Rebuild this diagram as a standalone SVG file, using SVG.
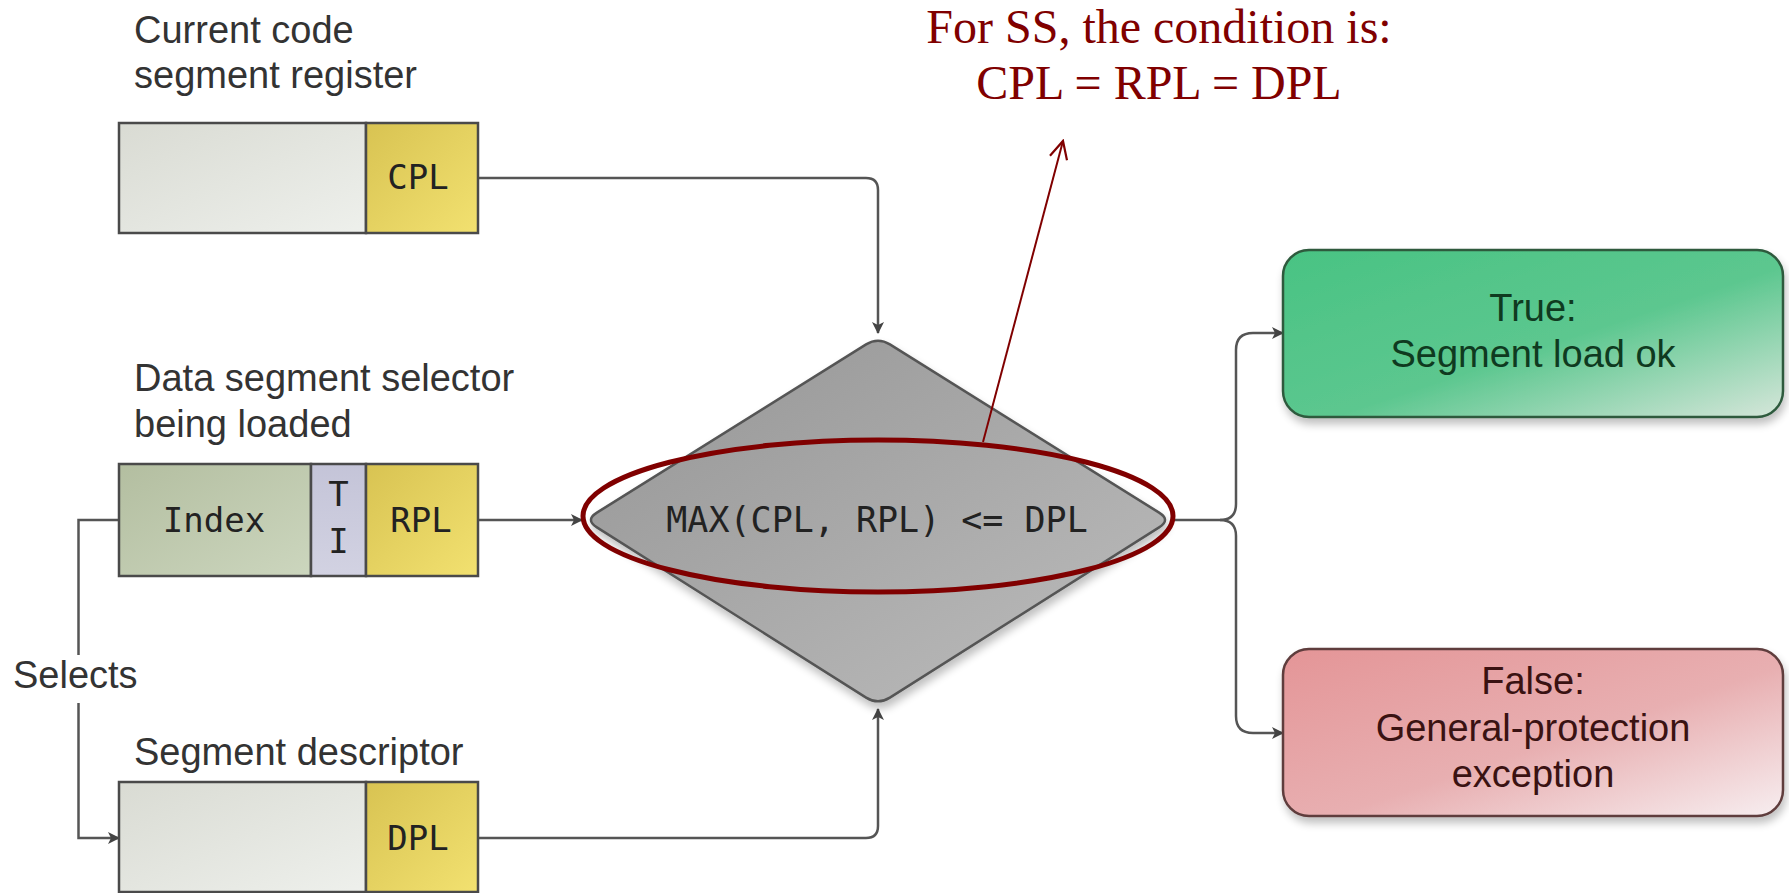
<svg xmlns="http://www.w3.org/2000/svg" width="1789" height="893" viewBox="0 0 1789 893">
<defs>
<style>
.lbl{font-family:"Liberation Sans",Arial,sans-serif;font-size:38px;fill:#333}
.mono{font-family:"DejaVu Sans Mono","Liberation Mono",monospace;font-size:34px;fill:#222}
.red{font-family:"Liberation Serif","Times New Roman",serif;font-size:48px;fill:#800000}
.box{stroke:#4a4a4a;stroke-width:2.5}
.conn{fill:none;stroke:#555;stroke-width:2.5}
.res{font-family:"Liberation Sans",Arial,sans-serif;font-size:38px;text-anchor:middle}
</style>
<linearGradient id="gGray" x1="0" y1="0" x2="1" y2="1"><stop offset="0" stop-color="#d9dbd3"/><stop offset="1" stop-color="#eef0ec"/></linearGradient>
<linearGradient id="gYel" x1="0" y1="0" x2="1" y2="1"><stop offset="0" stop-color="#d8c352"/><stop offset="1" stop-color="#f2e170"/></linearGradient>
<linearGradient id="gIdx" x1="0" y1="0" x2="1" y2="1"><stop offset="0" stop-color="#b3bea0"/><stop offset="1" stop-color="#ccd6be"/></linearGradient>
<linearGradient id="gTI" x1="0" y1="0" x2="0" y2="1"><stop offset="0" stop-color="#c4c4d8"/><stop offset="1" stop-color="#d2d2e2"/></linearGradient>
<linearGradient id="gDia" x1="0" y1="0" x2="1" y2="1"><stop offset="0" stop-color="#959595"/><stop offset="1" stop-color="#bdbdbd"/></linearGradient>
<linearGradient id="gTrue" x1="0" y1="0" x2="1" y2="1"><stop offset="0" stop-color="#49c383"/><stop offset="0.55" stop-color="#5cc78f"/><stop offset="1" stop-color="#d6e6da"/></linearGradient>
<linearGradient id="gFalse" x1="0" y1="0" x2="1" y2="1"><stop offset="0" stop-color="#e49597"/><stop offset="0.55" stop-color="#e8afb1"/><stop offset="1" stop-color="#f7eef0"/></linearGradient>
<filter id="sh" x="-5%" y="-5%" width="115%" height="125%"><feGaussianBlur in="SourceAlpha" stdDeviation="4"/><feOffset dx="2" dy="6"/><feComponentTransfer><feFuncA type="linear" slope="0.25"/></feComponentTransfer><feMerge><feMergeNode/><feMergeNode in="SourceGraphic"/></feMerge></filter>
<marker id="arr" viewBox="0 0 12 12" refX="11" refY="6" markerWidth="12" markerHeight="12" markerUnits="userSpaceOnUse" orient="auto"><path d="M0,0 L12,6 L0,12 L3,6 Z" fill="#444"/></marker>
<marker id="redarr" viewBox="0 0 20 20" refX="18" refY="10" markerWidth="22" markerHeight="22" markerUnits="userSpaceOnUse" orient="auto"><path d="M2,2 L18,10 L2,18" fill="none" stroke="#800000" stroke-width="2"/></marker>
</defs>
<rect width="1789" height="893" fill="#ffffff"/>

<g id="connectors">
<path class="conn" d="M478,178 H866 Q878,178 878,190 V333" marker-end="url(#arr)"/>
<path class="conn" d="M478,838 H866 Q878,838 878,826 V709" marker-end="url(#arr)"/>
<path class="conn" d="M478,520 H582" marker-end="url(#arr)"/>
<path class="conn" d="M119,520 H78.5 V655 M78.5,703 V838 H119" marker-end="url(#arr)"/>
<path class="conn" d="M1173,520 H1220 Q1236,520 1236,504 V350 Q1236,333 1253,333 H1283" marker-end="url(#arr)"/>
<path class="conn" d="M1220,520 Q1236,520 1236,536 V716 Q1236,733 1253,733 H1283" marker-end="url(#arr)"/>
<text class="lbl" x="13" y="688">Selects</text>
</g>

<g id="cs-register">
<text class="lbl" x="134" y="43">Current code</text>
<text class="lbl" x="134" y="88">segment register</text>
<rect class="box" x="119" y="123" width="247" height="110" fill="url(#gGray)"/>
<rect class="box" x="366" y="123" width="112" height="110" fill="url(#gYel)"/>
<text class="mono" x="418" y="189" text-anchor="middle">CPL</text>
</g>

<g id="selector">
<text class="lbl" x="134" y="391">Data segment selector</text>
<text class="lbl" x="134" y="437">being loaded</text>
<rect class="box" x="119" y="464" width="192" height="112" fill="url(#gIdx)"/>
<rect class="box" x="311" y="464" width="55" height="112" fill="url(#gTI)"/>
<rect class="box" x="366" y="464" width="112" height="112" fill="url(#gYel)"/>
<text class="mono" x="214" y="532" text-anchor="middle">Index</text>
<text class="mono" x="338.5" y="506" text-anchor="middle">T</text>
<text class="mono" x="338.5" y="553" text-anchor="middle">I</text>
<text class="mono" x="421" y="532" text-anchor="middle">RPL</text>
</g>

<g id="descriptor">
<text class="lbl" x="134" y="765">Segment descriptor</text>
<rect class="box" x="119" y="782" width="247" height="110" fill="url(#gGray)"/>
<rect class="box" x="366" y="782" width="112" height="110" fill="url(#gYel)"/>
<text class="mono" x="418" y="850" text-anchor="middle">DPL</text>
</g>

<g id="decision">
<path d="M866.1,344.4 Q878,337 889.9,344.4 L1159.1,512.6 Q1171,520 1159.1,527.4 L889.9,697.6 Q878,705 866.1,697.6 L596.9,527.4 Q585,520 596.9,512.6 Z" fill="url(#gDia)" stroke="#555" stroke-width="2.5" filter="url(#sh)"/>
<text class="mono" x="877" y="532" text-anchor="middle" font-size="35" style="font-size:35px">MAX(CPL, RPL) &lt;= DPL</text>
</g>

<g id="true-box">
<rect x="1283" y="250" width="500" height="167" rx="26" fill="url(#gTrue)" stroke="#2e5a3e" stroke-width="2.5" filter="url(#sh)"/>
<text class="res" x="1533" y="321" fill="#0f3a20">True:</text>
<text class="res" x="1533" y="367" fill="#0f3a20">Segment load ok</text>
</g>

<g id="false-box">
<rect x="1283" y="649" width="500" height="167" rx="26" fill="url(#gFalse)" stroke="#5e3c3c" stroke-width="2.5" filter="url(#sh)"/>
<text class="res" x="1533" y="694" fill="#3a1212">False:</text>
<text class="res" x="1533" y="741" fill="#3a1212">General-protection</text>
<text class="res" x="1533" y="787" fill="#3a1212">exception</text>
</g>

<g id="annotation">
<ellipse cx="878" cy="516" rx="295" ry="76" fill="none" stroke="#800000" stroke-width="5"/>
<line x1="983" y1="442" x2="1063" y2="141" stroke="#800000" stroke-width="2" marker-end="url(#redarr)"/>
<text class="red" x="1159" y="43" text-anchor="middle">For SS, the condition is:</text>
<text class="red" x="1159" y="99" text-anchor="middle">CPL = RPL = DPL</text>
</g>
</svg>
